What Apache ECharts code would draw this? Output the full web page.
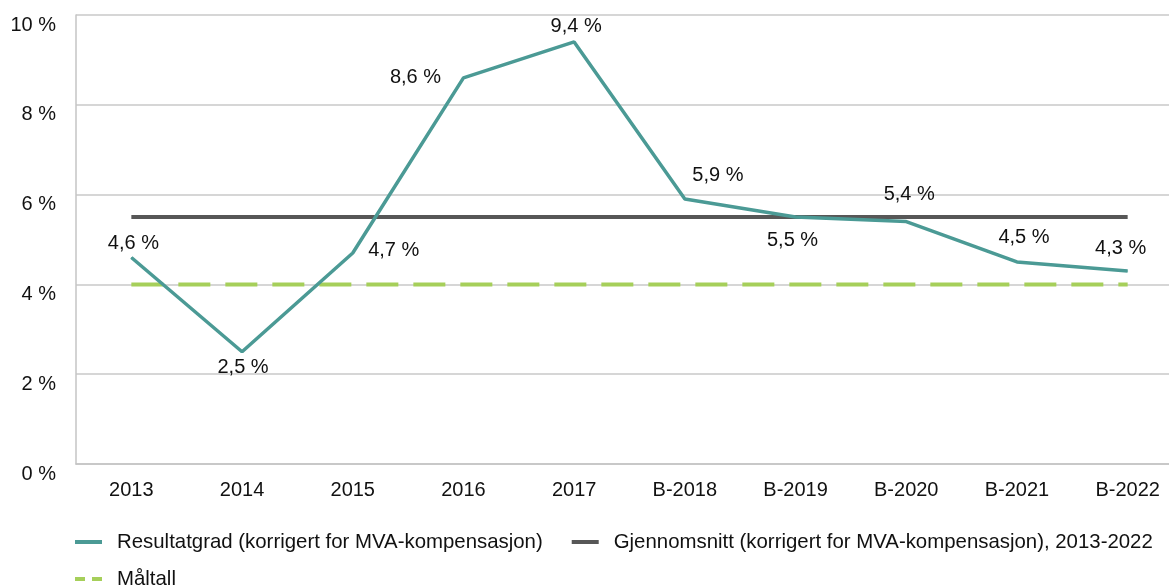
<!DOCTYPE html>
<html><head><meta charset="utf-8">
<script src="https://cdn.jsdelivr.net/npm/echarts@6/dist/echarts.min.js"></script>
<style>html,body{margin:0;padding:0;background:#fff;overflow:hidden}#c{width:1183px;height:588px}</style>
</head><body><div id="c"></div>
<script>
const categories = ['2013','2014','2015','2016','2017','B-2018','B-2019','B-2020','B-2021','B-2022'];
const resultatgrad = [4.6, 2.5, 4.7, 8.6, 9.4, 5.9, 5.5, 5.4, 4.5, 4.3];
const gjennomsnitt = [5.5, 5.5, 5.5, 5.5, 5.5, 5.5, 5.5, 5.5, 5.5, 5.5];
const maltall = [4, 4, 4, 4, 4, 4, 4, 4, 4, 4];
const yTicks = [0, 2, 4, 6, 8, 10];
const seriesNames = ['Resultatgrad (korrigert for MVA-kompensasjon)', 'Gjennomsnitt (korrigert for MVA-kompensasjon), 2013-2022', 'Måltall'];

const FONT = 'Liberation Sans, Arial, Helvetica, sans-serif';
const FS = 20;
const LFS = 20.4;
// label offsets (centre of label relative to the point)
const labelOffsets = [[2,-14],[1,16],[41,-2],[-48,0],[2,-15],[33,-24],[-3,23],[3,-27],[7,-24],[-7,-22]];
const fmt = v => String(v).replace('.', ',') + ' %';

const chart = echarts.init(document.getElementById('c'));
chart.setOption({
  animation: false,
  textStyle: {fontFamily: FONT},
  grid: {left: 76, right: 0, top: 15, bottom: 124, containLabel: false},
  legend: [{
    left: 75, top: 532, padding: 0, itemWidth: 27, itemHeight: 4, itemGap: 29, icon: 'rect',
    textStyle: {fontSize: LFS, color: '#111', fontFamily: FONT, padding: [0, 0, 0, 10]},
    data: [{name: seriesNames[0], itemStyle: {color: '#4b9a95'}}, {name: seriesNames[1], itemStyle: {color: '#575757'}}]
  }, {
    left: 75, top: 569, padding: 0, itemWidth: 27, itemHeight: 4,
    icon: 'path://M0,0H10V4H0Z M17,0H27V4H17Z',
    textStyle: {fontSize: LFS, color: '#111', fontFamily: FONT, padding: [0, 0, 0, 10]},
    data: [{name: seriesNames[2], itemStyle: {color: '#a6cf5a'}}]
  }],
  xAxis: {
    type: 'category', data: categories, boundaryGap: true,
    axisLine: {lineStyle: {color: '#c4c4c4', width: 1.5}},
    axisTick: {show: false},
    axisLabel: {fontSize: FS, color: '#111', margin: 16, fontFamily: FONT}
  },
  yAxis: {
    type: 'value', min: 0, max: 10, interval: 2,
    axisLine: {show: true, lineStyle: {color: '#c4c4c4', width: 1.5}},
    axisTick: {show: false},
    splitLine: {lineStyle: {color: '#c8c8c8', width: 1.5}},
    axisLabel: {fontSize: FS, color: '#111', margin: 20, fontFamily: FONT, verticalAlign: 'top', lineHeight: 20,
      formatter: v => yTicks.includes(v) ? v + ' %' : ''}
  },
  series: [{
    name: seriesNames[2], type: 'line', data: maltall, symbol: 'none', z: 2,
    lineStyle: {color: '#a6cf5a', width: 4, type: [32, 15]}, itemStyle: {color: '#a6cf5a'}
  }, {
    name: seriesNames[1], type: 'line', data: gjennomsnitt, symbol: 'none', z: 3,
    lineStyle: {color: '#575757', width: 4}, itemStyle: {color: '#575757'}
  }, {
    name: seriesNames[0], type: 'line',
    data: resultatgrad.map((v, i) => ({value: v, label: {offset: labelOffsets[i]}})),
    symbol: 'circle', symbolSize: 1, showSymbol: true, z: 4,
    lineStyle: {color: '#4b9a95', width: 3.5}, itemStyle: {color: '#4b9a95'},
    label: {show: true, position: 'inside', fontSize: FS, color: '#111', fontFamily: FONT, formatter: p => fmt(p.value)}
  }]
});
</script></body></html>
